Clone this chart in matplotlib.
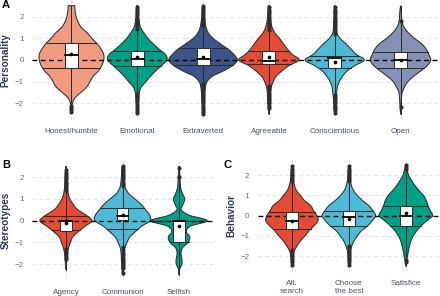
import matplotlib.pyplot as plt
import numpy as np

plt.rcParams['font.family'] = ['Liberation Sans', 'DejaVu Sans']

dens_y = [-2.5, -2.25, -2.0, -1.75, -1.5, -1.25, -1.0, -0.75, -0.5, -0.25, 0.0,
          0.25, 0.5, 0.75, 1.0, 1.25, 1.5, 1.75, 2.0, 2.25, 2.5]

# ---- panel A: personality
pers_names = ['Honest/humble', 'Emotional', 'Extraverted', 'Agreeable', 'Conscientious', 'Open']
pers_colors = ['#F39B7F', '#00A087', '#3C5488', '#E64B35', '#4DBBD5', '#8491B4']
w_honest = [0, 0, 0.015, 0.05, 0.14, 0.23, 0.28, 0.33, 0.41, 0.46, 0.49,
            0.49, 0.45, 0.39, 0.31, 0.24, 0.15, 0.10, 0.07, 0.055, 0.05]
w_emotional = [0, 0.01, 0.015, 0.02, 0.03, 0.06, 0.13, 0.20, 0.28, 0.37, 0.45,
               0.43, 0.33, 0.24, 0.16, 0.10, 0.05, 0.03, 0.02, 0.015, 0.01]
w_extraverted = [0.005, 0.01, 0.015, 0.02, 0.025, 0.035, 0.06, 0.14, 0.31, 0.45, 0.52,
                 0.47, 0.38, 0.26, 0.15, 0.08, 0.045, 0.03, 0.02, 0.015, 0.01]
w_agreeable = [0, 0.01, 0.015, 0.02, 0.025, 0.035, 0.065, 0.11, 0.20, 0.31, 0.46,
               0.36, 0.28, 0.22, 0.16, 0.09, 0.05, 0.03, 0.02, 0.015, 0.01]
w_conscientious = [0, 0.01, 0.015, 0.02, 0.03, 0.04, 0.07, 0.12, 0.19, 0.31, 0.45,
                   0.33, 0.25, 0.17, 0.08, 0.03, 0.02, 0.015, 0.01, 0.01, 0.005]
w_open = [0, 0.005, 0.01, 0.015, 0.025, 0.06, 0.11, 0.20, 0.31, 0.41, 0.46,
          0.43, 0.39, 0.32, 0.21, 0.12, 0.055, 0.025, 0.015, 0.01, 0]
pers_q_lo = [-0.38, -0.28, -0.23, -0.2, -0.38, -0.38]
pers_q_hi = [0.8, 0.43, 0.54, 0.4, 0.18, 0.38]
pers_median = [0.22, 0.06, 0.03, -0.05, 0.08, 0.0]
pers_mean = [0.27, 0.15, 0.12, 0.15, -0.08, 0.0]
out_honest = [-2.1, -2.2, -2.3, -2.4]
out_emotional = [1.45, 1.55, 1.65, 1.75, 1.85, 1.95, 2.05, 2.15, 2.25, 2.35, 2.45,
                 -1.55, -1.65, -1.75, -1.85, -1.95, -2.05, -2.15, -2.25, -2.35, -2.45]
out_extraverted = [1.6, 1.7, 1.8, 1.9, 2.0, 2.1, 2.2, 2.3, 2.4, 2.5,
                   -1.1, -1.2, -1.3, -1.4, -1.5, -1.6, -1.7, -1.8, -1.9, -2.0,
                   -2.1, -2.2, -2.3, -2.4, -2.5]
out_agreeable = [1.4, 1.5, 1.6, 1.7, 1.8, 1.9, 2.0, 2.1, 2.2, 2.3, 2.45,
                 -1.2, -1.3, -1.4, -1.5, -1.6, -1.7, -1.8, -1.9, -2.0, -2.1, -2.2]
out_conscientious = [1.2, 1.3, 1.4, 1.5, 1.6, 1.7, 1.8, 1.9, 2.0, 2.1, 2.2, 2.3, 2.45,
                     -1.6, -1.7, -1.8, -1.9, -2.0, -2.1, -2.2, -2.3, -2.45]
out_open = [1.8, -2.15]

# ---- panel B: stereotypes
ster_names = ['Agency', 'Communion', 'Selfish']
ster_colors = ['#E64B35', '#4DBBD5', '#00A087']
w_agency = [0, 0, 0.01, 0.015, 0.025, 0.045, 0.08, 0.12, 0.22, 0.34, 0.46,
            0.36, 0.21, 0.13, 0.07, 0.04, 0.025, 0.02, 0.015, 0.01, 0]
w_communion = [0, 0.01, 0.015, 0.02, 0.025, 0.04, 0.08, 0.13, 0.23, 0.34, 0.49,
               0.48, 0.41, 0.33, 0.22, 0.11, 0.05, 0.03, 0.02, 0.015, 0.01]
w_selfish = [0, 0.01, 0.05, 0.05, 0.035, 0.06, 0.16, 0.19, 0.13, 0.2, 0.5,
             0.18, 0.04, 0.07, 0.1, 0.06, 0.03, 0.02, 0.015, 0.01, 0.005]
ster_q_lo = [-0.45, -0.4, -0.97]
ster_q_hi = [0.2, 0.6, 0.0]
ster_box_lo = [-0.46, 0.03, -0.97]
ster_box_hi = [0.0, 0.6, 0.0]
ster_median = [0.0, 0.2, 0.0]
ster_mean = [-0.12, 0.28, -0.24]
out_agency = [1.4, 1.5, 1.6, 1.7, 1.8, 1.9, 2.0, 2.1, 2.2, 2.35,
              -1.3, -1.45, -1.55, -1.65, -1.75]
out_communion = [1.6, 1.7, 1.8, 1.9, 2.0, 2.1, 2.2, 2.3, 2.4, 2.5,
                 -1.2, -1.35, -1.5, -1.6, -1.7, -1.8, -1.9, -2.0, -2.1, -2.2, -2.4]
out_selfish = [2.03, 2.45]

# ---- panel C: behavior
beh_names = ['Alt.\nsearch', 'Choose\nthe best', 'Satisfice']
beh_colors = ['#E64B35', '#4DBBD5', '#00A087']
w_alt = [0, 0.01, 0.02, 0.04, 0.09, 0.15, 0.23, 0.30, 0.39, 0.46, 0.44,
         0.38, 0.33, 0.22, 0.15, 0.08, 0.045, 0.025, 0.015, 0.01, 0]
w_best = [0, 0.01, 0.015, 0.025, 0.05, 0.09, 0.15, 0.22, 0.33, 0.41, 0.47,
          0.42, 0.35, 0.24, 0.15, 0.08, 0.045, 0.025, 0.015, 0.01, 0]
w_satisfice = [0, 0.01, 0.03, 0.045, 0.065, 0.09, 0.13, 0.19, 0.27, 0.37, 0.47,
               0.43, 0.39, 0.36, 0.31, 0.23, 0.16, 0.10, 0.05, 0.025, 0]
beh_q_lo = [-0.67, -0.51, -0.5]
beh_q_hi = [0.17, 0.23, 0.48]
beh_median = [-0.25, -0.05, 0.0]
beh_mean = [-0.27, -0.16, 0.12]
out_alt = [1.7, 1.8, 1.9, 2.0, 2.1, 2.2, 2.3, 2.45,
           -1.7, -1.8, -1.9, -2.0, -2.1, -2.2, -2.3, -2.45]
out_best = [1.7, 1.8, 1.9, 2.0, 2.1, 2.2, 2.3, 2.45,
            -1.5, -1.6, -1.7, -1.8, -1.9, -2.0, -2.1, -2.2, -2.3, -2.45]
out_satisfice = [2.3, 2.4, 2.5, -2.2, -2.3]

EDGE = '#2E2E2E'
TITLE_COL = '#2C3B58'


def smooth_outline(yy, ww, n=8):
    # Catmull-Rom pass so the read-off outline is drawn as a curve
    p = np.concatenate([[ww[0]], ww, [ww[-1]]])
    t = np.linspace(0, 1, n, endpoint=False)
    ys_out, ws_out = [], []
    for k in range(len(ww) - 1):
        p0, p1, p2, p3 = p[k], p[k + 1], p[k + 2], p[k + 3]
        seg = 0.5 * (2 * p1 + (-p0 + p2) * t + (2 * p0 - 5 * p1 + 4 * p2 - p3) * t ** 2
                     + (-p0 + 3 * p1 - 3 * p2 + p3) * t ** 3)
        ws_out.append(seg)
        ys_out.append(yy[k] + (yy[k + 1] - yy[k]) * t)
    ys_out.append([yy[-1]])
    ws_out.append([ww[-1]])
    return np.concatenate(ys_out), np.clip(np.concatenate(ws_out), 0, None)


def violin_panel(ax, names, colors, widths, outliers, q_lo, q_hi, box_lo, box_hi,
                 medians, means, ylabel):
    ys = np.array(dens_y)
    for i, (w, col, outs) in enumerate(zip(widths, colors, outliers)):
        x0 = i + 1
        w = np.array(w, dtype=float)
        idx = np.nonzero(w > 0)[0]
        lo, hi = max(idx[0] - 1, 0), min(idx[-1] + 1, len(w) - 1)
        yy, ww = smooth_outline(ys[lo:hi + 1], w[lo:hi + 1])
        px = np.concatenate([x0 - ww, (x0 + ww)[::-1]])
        py = np.concatenate([yy, yy[::-1]])
        ax.fill(px, py, color=col, ec=EDGE, lw=0.75, zorder=2)
        # quantile lines across the violin
        for q in (q_lo[i], q_hi[i]):
            hw = np.interp(q, yy, ww)
            ax.plot([x0 - hw, x0 + hw], [q, q], color=EDGE, lw=0.75, zorder=3)
        # whisker
        top = max(yy[-1], max(outs))
        bot = min(yy[0], min(outs))
        ax.plot([x0, x0], [bot, top], color=EDGE, lw=0.75, zorder=3)
        ax.scatter([x0] * len(outs), outs, s=9, color=EDGE, lw=0, zorder=4)
        # box
        ax.add_patch(plt.Rectangle((x0 - 0.1, box_lo[i]), 0.2, box_hi[i] - box_lo[i],
                                   fc='white', ec=EDGE, lw=0.75, zorder=6))
        ax.plot([x0 - 0.1, x0 + 0.1], [medians[i]] * 2, color='black', lw=1.3, zorder=7)
        ax.scatter([x0], [means[i]], s=7, color='black', lw=0, zorder=8)

    ax.axhline(0, color='black', ls=(0, (3.5, 2.5)), lw=1.0, zorder=5)
    ax.set_xlim(0.4, len(names) + 0.6)
    ax.set_ylim(-2.75, 2.75)
    ax.set_xticks(range(1, len(names) + 1))
    ax.set_xticklabels(names, fontsize=5.8, color='#4A5365', linespacing=1.25)
    ax.set_yticks([-2, -1, 0, 1, 2])
    ax.tick_params(axis='y', labelsize=5.8, labelcolor='#6E6E6E', length=0, pad=6)
    ax.tick_params(axis='x', length=0, pad=6)
    ax.grid(color='#E3E3E3', ls=(0, (4, 3)), lw=0.7, zorder=0)
    ax.set_axisbelow(True)
    for s in ax.spines.values():
        s.set_visible(False)
    ax.set_ylabel(ylabel, fontsize=7.2, fontweight='bold', color=TITLE_COL, labelpad=3)


W, H = 440, 296
fig = plt.figure(figsize=(W / 100, H / 100), dpi=100)


def px_axes(left, right, top, bottom):
    return fig.add_axes([left / W, 1 - bottom / H, (right - left) / W, (bottom - top) / H])


axA = px_axes(32, 440, 0.3, 119.7)
axB = px_axes(32, 213, 161, 280.4)
axC = px_axes(257.7, 440, 160.1, 271.3)

violin_panel(axA, pers_names, pers_colors,
             [w_honest, w_emotional, w_extraverted, w_agreeable, w_conscientious, w_open],
             [out_honest, out_emotional, out_extraverted, out_agreeable, out_conscientious, out_open],
             pers_q_lo, pers_q_hi, pers_q_lo, pers_q_hi, pers_median, pers_mean,
             'Personality')
violin_panel(axB, ster_names, ster_colors, [w_agency, w_communion, w_selfish],
             [out_agency, out_communion, out_selfish],
             ster_q_lo, ster_q_hi, ster_box_lo, ster_box_hi, ster_median, ster_mean,
             'Stereotypes')
violin_panel(axC, beh_names, beh_colors, [w_alt, w_best, w_satisfice],
             [out_alt, out_best, out_satisfice],
             beh_q_lo, beh_q_hi, beh_q_lo, beh_q_hi, beh_median, beh_mean,
             'Behavior')

fig.text(2 / W, 1 - 0.5 / H, 'A', fontsize=8, fontweight='bold', va='top', ha='left')
fig.text(2 / W, 1 - 160 / H, 'B', fontsize=8, fontweight='bold', va='top', ha='left')
fig.text(223 / W, 1 - 160 / H, 'C', fontsize=8, fontweight='bold', va='top', ha='left')

fig.savefig('out.png', dpi=100)
